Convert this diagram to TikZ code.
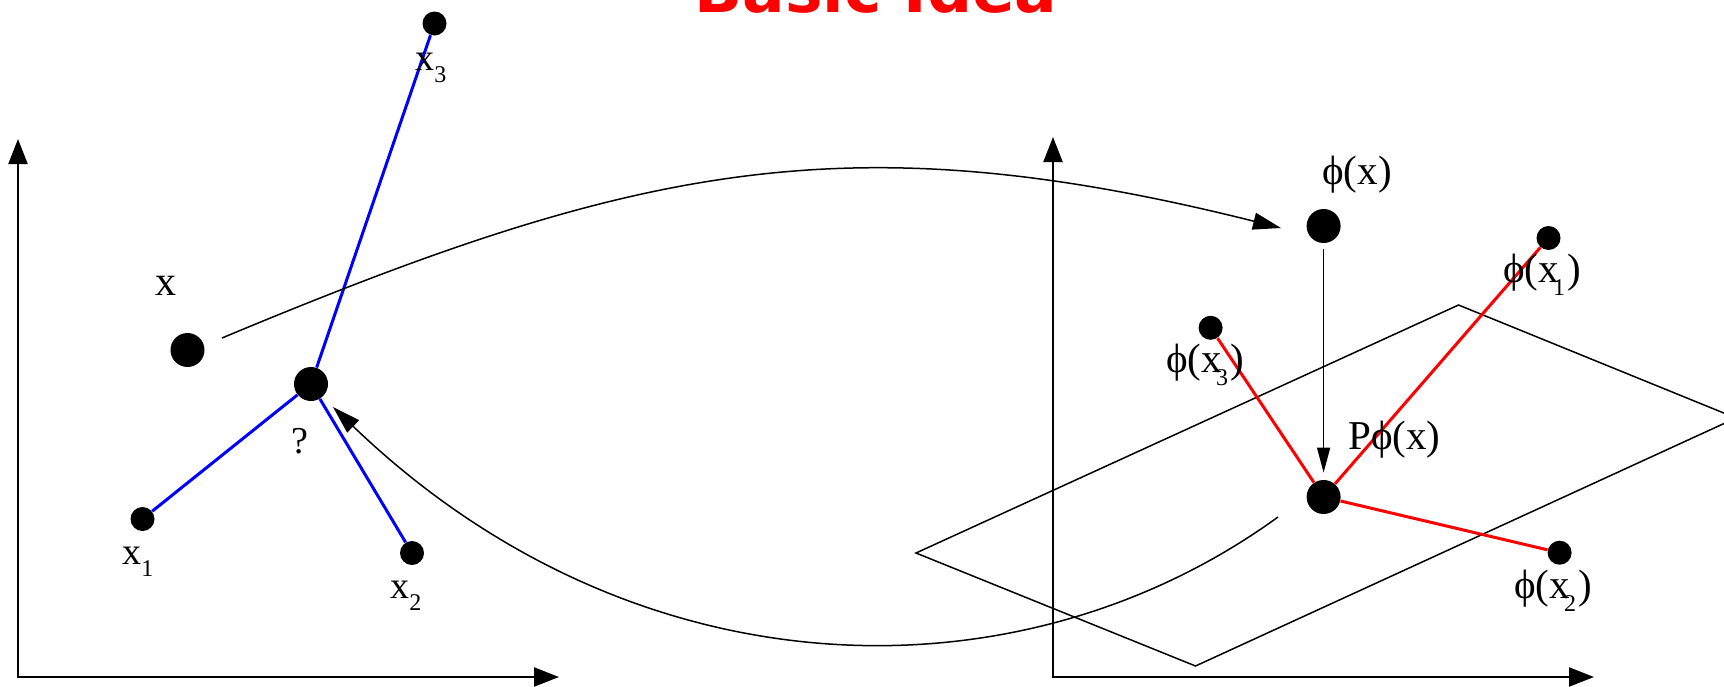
\documentclass[tikz,border=0pt]{standalone}
\usepackage{fontspec}
\setmainfont{Liberation Serif}
\newfontfamily\titlefont{DejaVu Sans}
\usetikzlibrary{arrows.meta}
\newcommand{\lsub}[1]{\raisebox{-0.32em}{\fontsize{12pt}{12pt}\selectfont #1}}
\newcommand{\osub}[1]{\rlap{\kern-0.15em\lsub{#1}}\kern0.2em}
\begin{document}
\begin{tikzpicture}[x=0.5pt,y=-0.5pt,
  bigdot/.style={circle,fill=black,inner sep=0pt,minimum size=17pt},
  smalldot/.style={circle,fill=black,inner sep=0pt,minimum size=12pt},
  lbl/.style={inner sep=0pt,anchor=base west,font=\fontsize{19pt}{19pt}\selectfont},
  plbl/.style={inner sep=0pt,anchor=base west,font=\fontsize{20.5pt}{20.5pt}\selectfont},
  axisl/.style={line width=1.1pt,{Triangle[length=12.5pt,width=9.5pt]}-{Triangle[length=12.5pt,width=9.5pt]}},
  bluel/.style={blue,line width=1.5pt},
  redl/.style={red,line width=1.5pt},
  curvel/.style={line width=0.75pt,-{Triangle[length=14pt,width=8.5pt]}},
  vertl/.style={line width=0.75pt,-{Triangle[length=12.5pt,width=6.5pt]},shorten <=3pt,shorten >=3.5pt},
  planel/.style={line width=0.75pt}]
\clip (0,0) rectangle (1724,686);
% title (cut off at the top)
\node[font=\titlefont\bfseries\fontsize{31.5pt}{31.5pt}\selectfont,text=red,anchor=base,inner sep=0pt] (title) at (876,12) {Basic Idea};
% axes
\coordinate (ly) at (18,139);
\coordinate (lo) at (18,677);
\coordinate (lx) at (559,677);
\coordinate (ry) at (1053,137);
\coordinate (ro) at (1053,677);
\coordinate (rx) at (1594,677);
\draw[axisl] (ly) -- (lo) -- (lx);
\draw[axisl] (ry) -- (ro) -- (rx);
% plane
\coordinate (pl) at (916,553);
\coordinate (pt) at (1458.5,305);
\coordinate (pr) at (1736,418);
\coordinate (pb) at (1195.5,666);
\draw[planel] (pl) -- (pt) -- (pr) -- (pb) -- cycle;
% input space dots
\node[smalldot] (x3dot) at (434.5,23.5) {};
\node[bigdot] (xdot) at (187.5,350) {};
\node[bigdot] (qdot) at (311,384) {};
\node[smalldot] (x1dot) at (142.5,519) {};
\node[smalldot] (x2dot) at (412,553) {};
% feature space dots
\node[bigdot] (phixdot) at (1323.6,226) {};
\node[bigdot] (pphidot) at (1323.6,497) {};
\node[smalldot] (p1dot) at (1548.5,238) {};
\node[smalldot] (p3dot) at (1210.6,327.8) {};
\node[smalldot] (p2dot) at (1559.6,552.7) {};
% blue and red lines
\draw[bluel] (qdot) -- (x1dot);
\draw[bluel] (qdot) -- (x2dot);
\draw[bluel] (qdot) -- (x3dot);
\draw[redl] (pphidot) -- (p1dot);
\draw[redl] (pphidot) -- (p2dot);
\draw[redl] (pphidot) -- (p3dot);
% projection arrow
\draw[vertl] (phixdot) -- (pphidot);
% mapping curves
\coordinate (c1s) at (222,338);
\coordinate (c1e) at (1281,228);
\coordinate (c2s) at (1278,517);
\coordinate (c2e) at (333,407);
\draw[curvel] (c1s) .. controls (634,166) and (846,119) .. (c1e);
\draw[curvel] (c2s) .. controls (1019,705) and (635,697) .. (c2e);
% labels
\node[lbl] (lx3) at (415,70) {x\lsub{3}};
\node[lbl,font=\fontsize{21pt}{21pt}\selectfont] (lxx) at (155,295) {x};
\node[lbl] (lq) at (291,453) {?};
\node[lbl] (lx1) at (122,564) {x\lsub{1}};
\node[lbl] (lx2) at (390,598) {x\lsub{2}};
\node[plbl] (lphix) at (1322,184) {ϕ(x)};
\node[plbl] (lp1) at (1503,282) {ϕ(x\osub{1})};
\node[plbl] (lp3) at (1166,372) {ϕ(x\osub{3})};
\node[plbl] (lpp) at (1348,449) {Pϕ(x)};
\node[plbl] (lp2) at (1514,598) {ϕ(x\osub{2})};
\end{tikzpicture}
\end{document}
